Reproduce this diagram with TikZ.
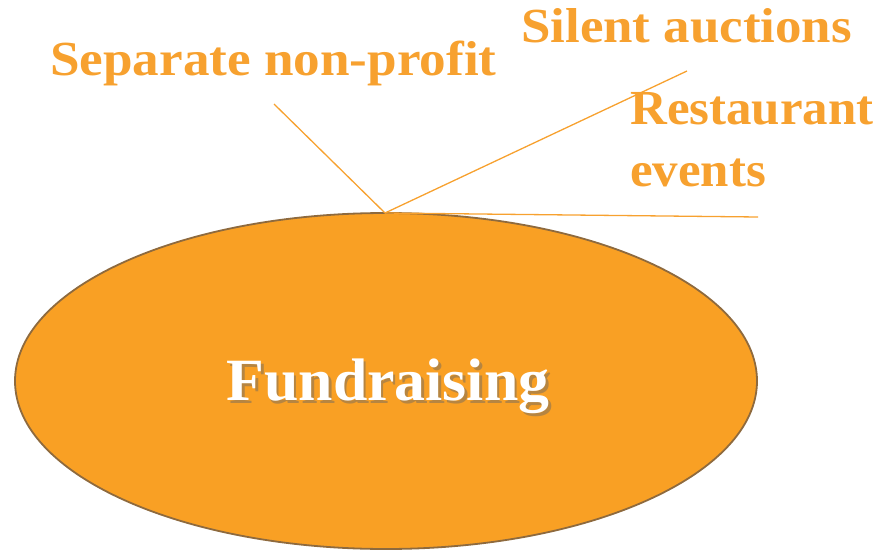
\documentclass[tikz,border=0pt]{standalone}
\usepackage{fontspec}
\setmainfont{Liberation Serif}
\usetikzlibrary{shapes.geometric}
\definecolor{fillor}{HTML}{F9A024}
\definecolor{edgebr}{HTML}{8E6A3E}
\definecolor{txtor}{HTML}{F7A12F}
\definecolor{lineor}{HTML}{F7A12F}
\newcommand{\wide}[2]{\scalebox{#1}[1]{#2}}
\begin{document}
\begin{tikzpicture}[x=1pt,y=-1pt,
  lbl/.style={text=txtor,font=\bfseries\fontsize{49}{62}\selectfont,inner sep=0pt,anchor=base west},
  fundtxt/.style={font=\bfseries\fontsize{60}{64}\selectfont,inner sep=0pt,anchor=base},
  spoke/.style={draw=lineor,line width=1.3pt}]
\useasboundingbox (0,0) rectangle (886,551);
\node[ellipse,draw=edgebr,fill=fillor,line width=1.8pt,minimum width=742pt,minimum height=336pt,inner sep=0pt] (fund) at (386,381) {};
\node[fundtxt,text=black!60,opacity=0.45] (fsh) at (390.5,403) {\wide{1.03}{Fundraising}};
\node[fundtxt,text=white] (ftxt) at (388,400) {\wide{1.03}{Fundraising}};
\coordinate (hub) at (385,213);
\coordinate (e1) at (274,104);
\coordinate (e2) at (687,71);
\coordinate (e3) at (758,217);
\draw[spoke] (hub) -- (e1);
\draw[spoke] (hub) -- (e2);
\draw[spoke] (hub) -- (e3);
\node[lbl] (sep) at (50,76) {\wide{1.085}{Separate non-profit}};
\node[lbl] (sil) at (521,43) {\wide{1.08}{Silent auctions}};
\node[lbl] (res) at (630,124) {\wide{1.04}{Restaurant}};
\node[lbl] (evt) at (630,186) {\wide{1.04}{events}};
\end{tikzpicture}
\end{document}
